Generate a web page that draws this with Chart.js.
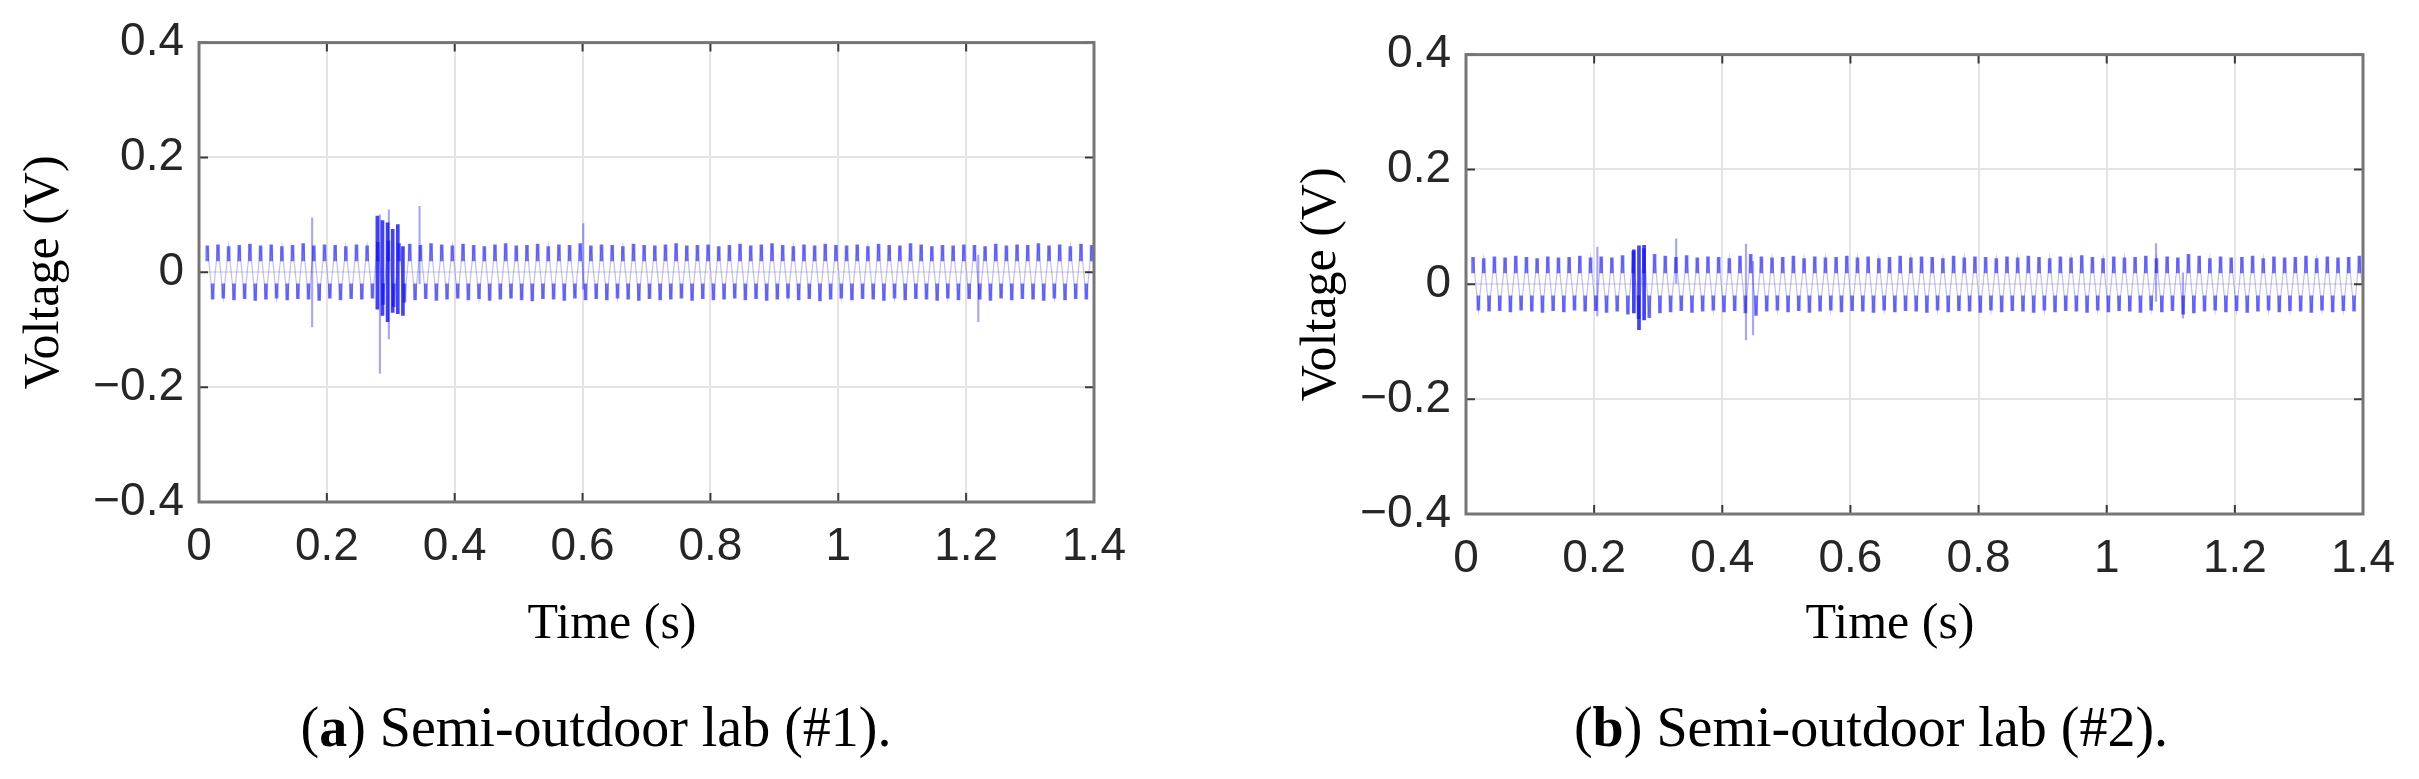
<!DOCTYPE html>
<html>
<head>
<meta charset="utf-8">
<script src="https://cdn.jsdelivr.net/npm/chart.js@4.4.1/dist/chart.umd.min.js"></script>
<style>
  html, body { margin: 0; padding: 0; background: #fff; width: 2419px; height: 779px; overflow: hidden; }
  canvas { position: absolute; }
  .caption { position: absolute; width: 600px; text-align: center; white-space: nowrap;
             font-family: 'Liberation Serif', serif; font-size: 56px; line-height: 56px; color: #000; }
</style>
</head>
<body>
<canvas id="chartA" width="1224" height="660" style="left:0;top:0"></canvas>
<canvas id="chartB" width="1246" height="660" style="left:1267px;top:12px"></canvas>
<div class="caption" style="left:296px;top:699px">(<b>a</b>) Semi-outdoor lab (#1).</div>
<div class="caption" style="left:1571px;top:699px">(<b>b</b>) Semi-outdoor lab (#2).</div>

<script>
// ejes
const timeMin = 0, timeMax = 1.4, timeStep = 0.2;
const voltMin = -0.4, voltMax = 0.4, voltStep = 0.2;

// rizado de red a 60 Hz: un pico positivo y uno negativo por ciclo
const RIPPLE_HZ = 60;
const dashInner = 0.02;   // los trazos de cada pico llegan hasta ~±0.02 V

// (a) laboratorio #1
const firstPeakA = 0.013;
const upA = [
  0.046, 0.048, 0.045, 0.047, 0.049, 0.046, 0.048, 0.045, 0.047, 0.050, 0.046, 0.048,
  0.047, 0.045, 0.048, 0.046, 0.052, 0.055, 0.050, 0.049, 0.047, 0.050, 0.048, 0.046,
  0.049, 0.047, 0.045, 0.048, 0.050, 0.046, 0.047, 0.049, 0.045, 0.048, 0.047, 0.050,
  0.046, 0.048, 0.047, 0.045, 0.049, 0.047, 0.046, 0.048, 0.050, 0.046, 0.047, 0.048,
  0.045, 0.047, 0.049, 0.046, 0.048, 0.050, 0.047, 0.045, 0.048, 0.046, 0.049, 0.047,
  0.046, 0.048, 0.045, 0.049, 0.047, 0.046, 0.050, 0.048, 0.045, 0.047, 0.046, 0.048,
  0.047, 0.045, 0.049, 0.046, 0.048, 0.047, 0.050, 0.046, 0.048, 0.045, 0.049, 0.047
];
const dnA = [
  -0.047, -0.045, -0.048, -0.046, -0.049, -0.047, -0.045, -0.048, -0.046, -0.047, -0.049, -0.045,
  -0.048, -0.046, -0.047, -0.045, -0.056, -0.060, -0.052, -0.048, -0.046, -0.049, -0.047, -0.045,
  -0.048, -0.046, -0.049, -0.047, -0.045, -0.048, -0.050, -0.046, -0.047, -0.049, -0.045, -0.048,
  -0.046, -0.048, -0.045, -0.047, -0.049, -0.046, -0.048, -0.047, -0.045, -0.049, -0.046, -0.048,
  -0.047, -0.045, -0.048, -0.046, -0.049, -0.047, -0.045, -0.048, -0.046, -0.050, -0.047, -0.045,
  -0.048, -0.046, -0.047, -0.049, -0.045, -0.048, -0.046, -0.047, -0.049, -0.045, -0.048, -0.046,
  -0.047, -0.049, -0.045, -0.048, -0.046, -0.047, -0.049, -0.045, -0.048, -0.046, -0.047, -0.049
];
const burstTimeA = [0.279, 0.287, 0.295, 0.303, 0.311, 0.319];
const burstLowA  = [-0.064, -0.075, -0.086, -0.070, -0.072, -0.075];
const burstHighA = [0.098, 0.090, 0.086, 0.075, 0.083, 0.045];
const spikeTimeA = [0.177, 0.283, 0.297, 0.345, 0.601, 1.219];
const spikeLowA  = [-0.095, -0.176, -0.116, -0.020, -0.030, -0.086];
const spikeHighA = [0.095, 0.100, 0.109, 0.115, 0.085, 0.030];

// (b) laboratorio #2
const firstPeakB = 0.011;
const upB = [
  0.047, 0.045, 0.048, 0.046, 0.049, 0.047, 0.045, 0.048, 0.046, 0.047, 0.049, 0.046,
  0.048, 0.046, 0.050, 0.058, 0.062, 0.052, 0.049, 0.047, 0.050, 0.046, 0.048, 0.047,
  0.045, 0.049, 0.052, 0.048, 0.046, 0.047, 0.049, 0.045, 0.048, 0.046, 0.047, 0.049,
  0.046, 0.048, 0.045, 0.047, 0.049, 0.046, 0.048, 0.047, 0.045, 0.049, 0.046, 0.048,
  0.047, 0.045, 0.048, 0.046, 0.049, 0.047, 0.045, 0.048, 0.046, 0.050, 0.047, 0.045,
  0.048, 0.046, 0.047, 0.049, 0.045, 0.048, 0.046, 0.052, 0.049, 0.045, 0.048, 0.046,
  0.047, 0.049, 0.045, 0.048, 0.046, 0.047, 0.049, 0.045, 0.048, 0.046, 0.047, 0.049
];
const dnB = [
  -0.045, -0.047, -0.046, -0.048, -0.045, -0.047, -0.049, -0.046, -0.048, -0.045, -0.047, -0.046,
  -0.049, -0.047, -0.052, -0.060, -0.058, -0.050, -0.048, -0.046, -0.049, -0.047, -0.045, -0.048,
  -0.046, -0.050, -0.054, -0.047, -0.045, -0.048, -0.046, -0.049, -0.047, -0.045, -0.048, -0.046,
  -0.047, -0.049, -0.045, -0.048, -0.046, -0.047, -0.049, -0.045, -0.048, -0.046, -0.047, -0.049,
  -0.045, -0.048, -0.046, -0.047, -0.049, -0.045, -0.048, -0.046, -0.047, -0.049, -0.045, -0.048,
  -0.046, -0.047, -0.049, -0.045, -0.048, -0.046, -0.052, -0.050, -0.047, -0.045, -0.048, -0.046,
  -0.049, -0.047, -0.045, -0.048, -0.046, -0.047, -0.049, -0.045, -0.048, -0.046, -0.047, -0.049
];
const burstTimeB = [0.262, 0.270, 0.278];
const burstLowB  = [-0.050, -0.079, -0.062];
const burstHighB = [0.060, 0.067, 0.068];
const spikeTimeB = [0.205, 0.328, 0.437, 0.448, 1.077, 1.119];
const spikeLowB  = [-0.055, 0.000, -0.097, -0.088, -0.030, -0.059];
const spikeHighB = [0.065, 0.079, 0.070, 0.040, 0.071, 0.020];

const fmtNum = v => {
  const r = Math.round(v * 10) / 10;
  return r < 0 ? '\u2212' + Math.abs(r) : String(r);
};

// caja estilo MATLAB con marcas hacia dentro en los 4 lados
const matlabBox = {
  id: 'matlabBox',
  afterDatasetsDraw(chart) {
    const { ctx, chartArea: a, scales: { x, y } } = chart;
    ctx.save();
    ctx.strokeStyle = '#3a3a3a';
    ctx.lineWidth = 2;
    ctx.beginPath();
    x.ticks.forEach(t => {
      const px = x.getPixelForValue(t.value);
      ctx.moveTo(px, a.bottom); ctx.lineTo(px, a.bottom - 9);
      ctx.moveTo(px, a.top); ctx.lineTo(px, a.top + 9);
    });
    y.ticks.forEach(t => {
      const py = y.getPixelForValue(t.value);
      ctx.moveTo(a.left, py); ctx.lineTo(a.left + 9, py);
      ctx.moveTo(a.right, py); ctx.lineTo(a.right - 9, py);
    });
    ctx.stroke();
    ctx.strokeStyle = '#767676';
    ctx.lineWidth = 3;
    ctx.strokeRect(a.left, a.top, a.right - a.left, a.bottom - a.top);
    ctx.restore();
  }
};

function buildChart(id, p) {
  const upT = p.up.map((v, i) => p.t0 + i / RIPPLE_HZ);
  const dnT = p.dn.map((v, i) => p.t0 + (i + 0.5) / RIPPLE_HZ);

  // trazo fino que une los picos (zona clara del centro)
  const haze = [];
  p.up.forEach((v, i) => {
    haze.push({ x: upT[i], y: v });
    haze.push({ x: dnT[i], y: p.dn[i] });
  });

  const dashes = [
    ...upT.map((t, i) => ({ x: t, y: [dashInner, p.up[i]] })),
    ...dnT.map((t, i) => ({ x: t, y: [p.dn[i], -dashInner] }))
  ];
  const burst = p.burstT.map((t, i) => ({ x: t, y: [p.burstLo[i], p.burstHi[i]] }));
  const spikes = p.spikeT.map((t, i) => ({ x: t, y: [p.spikeLo[i], p.spikeHi[i]] }));

  const tickFont = { family: 'Liberation Sans', size: 46 };

  return new Chart(document.getElementById(id), {
    type: 'bar',
    data: {
      datasets: [
        {
          type: 'line', data: haze, borderColor: 'rgba(40,40,255,0.3)',
          borderWidth: 1.2, pointRadius: 0, tension: 0
        },
        {
          type: 'bar', data: dashes, backgroundColor: 'rgba(0,0,255,0.55)',
          barThickness: 3, grouped: false, borderWidth: 0
        },
        {
          type: 'bar', data: spikes, backgroundColor: 'rgba(0,0,255,0.35)',
          barThickness: 1.5, grouped: false, borderWidth: 0
        },
        {
          type: 'bar', data: burst, backgroundColor: 'rgba(0,0,255,0.75)',
          barThickness: 3, grouped: false, borderWidth: 0
        }
      ]
    },
    options: {
      responsive: false,
      animation: false,
      events: [],
      layout: { padding: { left: 0, top: 37, right: 0, bottom: p.padBottom } },
      plugins: {
        legend: { display: false },
        tooltip: { enabled: false },
        title: {
          display: true, position: 'bottom', text: 'Time (s)', color: '#000',
          font: { family: 'Liberation Serif', size: 50, weight: 'normal' }, padding: 0
        }
      },
      scales: {
        x: {
          type: 'linear', min: timeMin, max: timeMax, offset: false,
          grid: { offset: false, color: '#e4e4e4', lineWidth: 2, drawTicks: false },
          border: { display: false },
          ticks: {
            stepSize: timeStep, padding: 18, color: '#262626', font: tickFont,
            maxRotation: 0, autoSkip: false, callback: fmtNum
          },
          afterFit: s => { s.height = p.xAxisHeight; }
        },
        y: {
          min: voltMin, max: voltMax,
          grid: { color: '#e4e4e4', lineWidth: 2, drawTicks: false },
          border: { display: false },
          ticks: { stepSize: voltStep, padding: 15, color: '#262626', font: tickFont, callback: fmtNum },
          title: {
            display: true, text: 'Voltage (V)', color: '#000',
            font: { family: 'Liberation Serif', size: 50 }, padding: { top: p.yTitlePad, bottom: 0 }
          },
          afterFit: s => { s.width = 199; }
        },
        // eje vacío a la derecha: solo reserva espacio para centrar "Time (s)"
        yRight: {
          position: 'right', min: voltMin, max: voltMax,
          grid: { display: false }, border: { display: false }, ticks: { display: false },
          afterFit: s => { s.width = p.rightGap; }
        }
      }
    },
    plugins: [matlabBox]
  });
}

buildChart('chartA', {
  t0: firstPeakA, up: upA, dn: dnA,
  burstT: burstTimeA, burstLo: burstLowA, burstHi: burstHighA,
  spikeT: spikeTimeA, spikeLo: spikeLowA, spikeHi: spikeHighA,
  xAxisHeight: 93, padBottom: 5, yTitlePad: 15, rightGap: 130
});

buildChart('chartB', {
  t0: firstPeakB, up: upB, dn: dnB,
  burstT: burstTimeB, burstLo: burstLowB, burstHi: burstHighB,
  spikeT: spikeTimeB, spikeLo: spikeLowB, spikeHi: spikeHighB,
  xAxisHeight: 81, padBottom: 17, yTitlePad: 25, rightGap: 150
});
</script>
</body>
</html>
